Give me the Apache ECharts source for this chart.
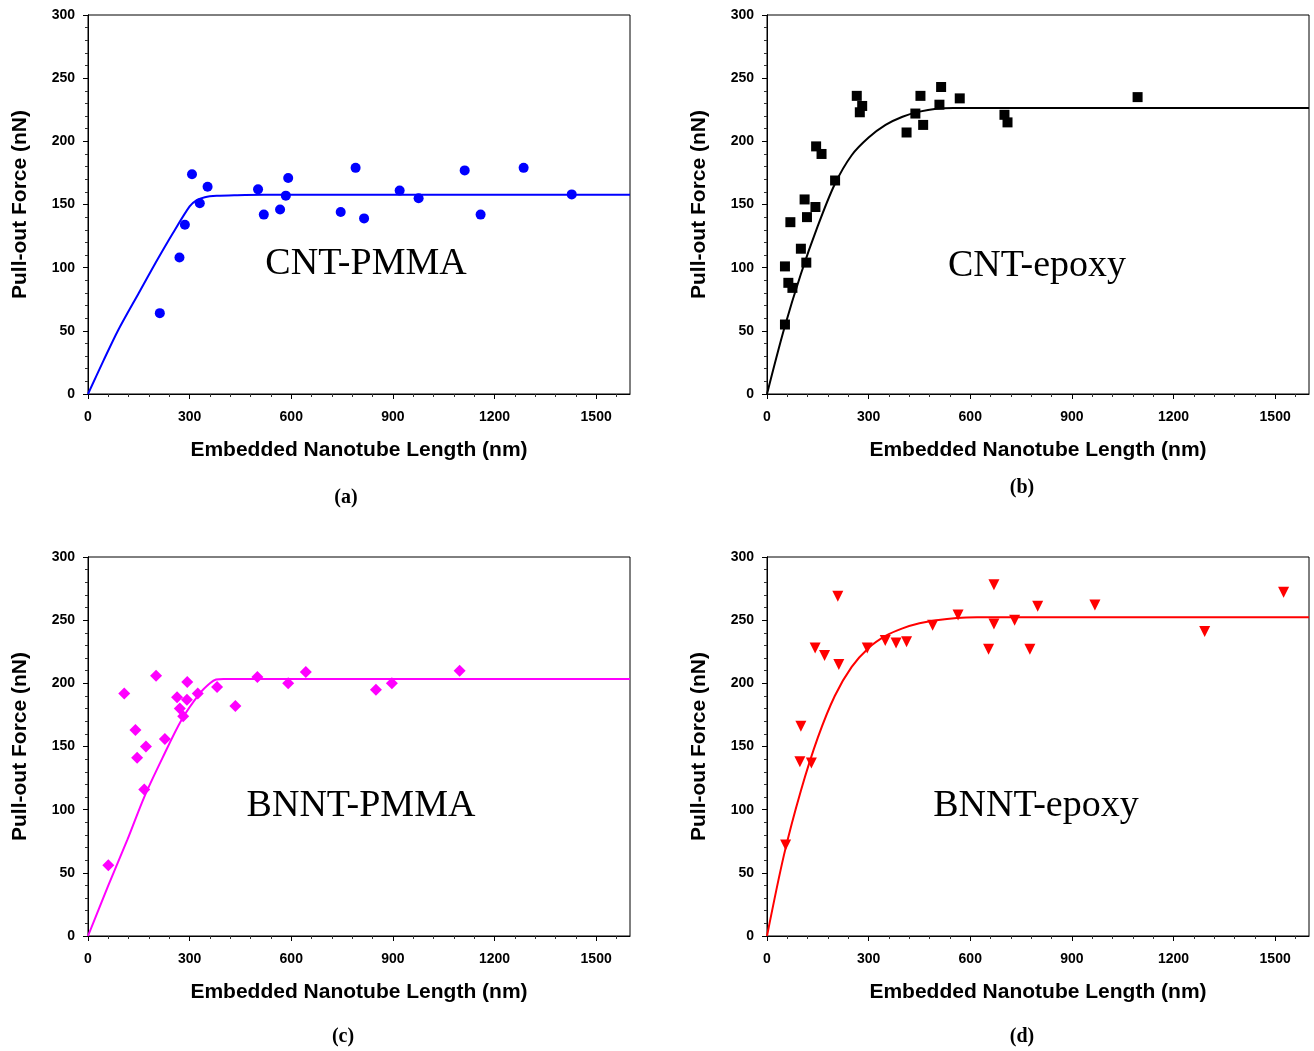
<!DOCTYPE html>
<html>
<head>
<meta charset="utf-8">
<script src="https://cdn.jsdelivr.net/npm/echarts@6/dist/echarts.min.js"></script>
<style>
  html, body { margin: 0; padding: 0; background: #fff; }
  #chart { width: 1314px; height: 1051px; }
</style>
</head>
<body>
<div id="chart"></div>
<script>
// tick values
const xTicks = [0, 300, 600, 900, 1200, 1500]
const yTicks = [0, 50, 100, 150, 200, 250, 300]
const xMinorTicks = []
for (let v = 60; v < 1600; v += 60) {
  if (v % 300 !== 0) xMinorTicks.push(v)
}

// (a) CNT-PMMA: measured points [length nm, force nN]
const cntPmmaPts = [
  [212, 64], [270, 108], [286, 134], [307, 174], [330, 151], [353, 164],
  [502, 162], [519, 142], [567, 146], [584, 157], [591, 171], [746, 144],
  [790, 179], [815, 139], [920, 161], [976, 155], [1112, 177], [1159, 142],
  [1286, 179], [1428, 158]
]
const cntPmmaFit = [
  [0, 0], [45, 26], [89, 50.5], [150, 80], [200, 104], [250, 127],
  [300, 148.5], [320, 153.3], [345, 155.8], [380, 156.9], [440, 157.4],
  [520, 157.7], [1600, 157.8]
]

// (b) CNT-epoxy
const cntEpoxyPts = [
  [53, 55], [53, 101], [63, 88], [75, 84], [69, 136], [100, 115], [116, 104],
  [111, 154], [118, 140], [143, 148], [145, 196], [161, 190], [201, 169],
  [265, 236], [281, 228], [274, 223], [412, 207], [438, 222], [453, 236],
  [461, 213], [509, 229], [514, 243], [569, 234], [701, 221], [710, 215],
  [1094, 235]
]
const cntEpoxyFit = [
  [0, 0], [50, 51], [100, 95], [150, 133], [200, 166], [250, 189],
  [300, 203], [350, 213], [400, 219.5], [450, 223.5], [500, 225.8],
  [550, 226.3], [1600, 226.3]
]

// (c) BNNT-PMMA
const bnntPmmaPts = [
  [60, 56], [107, 192], [140, 163], [145, 141], [171, 150], [166, 116],
  [201, 206], [227, 156], [263, 189], [271, 180], [281, 174], [292, 187],
  [293, 201], [324, 192], [381, 197], [435, 182], [500, 205], [591, 200],
  [643, 209], [850, 195], [897, 200], [1097, 210]
]
const bnntPmmaFit = [
  [0, 0], [60, 40], [116, 76], [166, 110], [220, 141], [276, 171],
  [330, 192], [360, 200], [378, 203], [400, 203.4], [1600, 203.4]
]

// (d) BNNT-epoxy
const bnntEpoxyPts = [
  [55, 72], [100, 166], [97, 138], [131, 137], [142, 228], [170, 222],
  [209, 269], [212, 215], [296, 228], [349, 234], [381, 232], [412, 233],
  [489, 246], [564, 254], [654, 227], [670, 278], [670, 247], [731, 250],
  [776, 227], [799, 261], [968, 262], [1292, 241], [1525, 272]
]
const bnntEpoxyFit = [
  [0, 0], [50, 64], [100, 115], [150, 157], [200, 190], [250, 213],
  [300, 228], [350, 237.5], [400, 243.5], [450, 247.5], [500, 250],
  [560, 251.8], [620, 252.3], [1600, 252.3]
]

const sans = '"Liberation Sans", Arial, sans-serif'
const serif = '"Liberation Serif", "Times New Roman", serif'

const panels = [
  { left: 88, top: 15, color: '#0000ff', symbol: 'circle', size: 10, rotate: 0,
    pts: cntPmmaPts, fit: cntPmmaFit, label: 'CNT-PMMA', lx: 366, ly: 264, tag: '(a)', tx: 346, ty: 498 },
  { left: 767, top: 15, color: '#000000', symbol: 'rect', size: 10, rotate: 0,
    pts: cntEpoxyPts, fit: cntEpoxyFit, label: 'CNT-epoxy', lx: 1037, ly: 266, tag: '(b)', tx: 1022, ty: 488 },
  { left: 88, top: 557, color: '#ff00ff', symbol: 'diamond', size: 12, rotate: 0,
    pts: bnntPmmaPts, fit: bnntPmmaFit, label: 'BNNT-PMMA', lx: 361, ly: 806, tag: '(c)', tx: 343, ty: 1037 },
  { left: 767, top: 557, color: '#ff0000', symbol: 'triangle', size: 11, rotate: 180,
    pts: bnntEpoxyPts, fit: bnntEpoxyFit, label: 'BNNT-epoxy', lx: 1036, ly: 806, tag: '(d)', tx: 1022, ty: 1037 }
]

const W = 542, H = 379
const grid = [], xAxis = [], yAxis = [], series = [], graphic = []

panels.forEach((p, i) => {
  const g = i * 2
  // main grid with frame, overlay grid for minor x ticks
  grid.push({ left: p.left, top: p.top, width: W, height: H, show: true,
    borderColor: '#000', borderWidth: 1, backgroundColor: 'transparent' })
  grid.push({ left: p.left, top: p.top, width: W, height: H })

  xAxis.push({
    gridIndex: g, type: 'value', min: 0, max: 1600, interval: 300, position: 'bottom',
    name: 'Embedded Nanotube Length (nm)', nameLocation: 'middle', nameGap: 46,
    nameTextStyle: { fontFamily: sans, fontWeight: 'bold', fontSize: 21, color: '#000' },
    axisLine: { onZero: false, lineStyle: { color: '#000', width: 1 } },
    axisTick: { customValues: xTicks, length: 5, lineStyle: { color: '#000' } },
    axisLabel: { customValues: xTicks, formatter: v => String(v), margin: 16,
      fontFamily: sans, fontWeight: 'bold', fontSize: 14, color: '#000' },
    splitLine: { show: false }
  })
  xAxis.push({
    gridIndex: g + 1, type: 'value', min: 0, max: 1600, position: 'bottom',
    axisLine: { show: false },
    axisTick: { customValues: xMinorTicks, length: 3, lineStyle: { color: '#333' } },
    axisLabel: { show: false },
    splitLine: { show: false }
  })

  yAxis.push({
    gridIndex: g, type: 'value', min: 0, max: 300, interval: 50, position: 'left',
    name: 'Pull-out Force (nN)', nameLocation: 'middle', nameGap: 57,
    nameTextStyle: { fontFamily: sans, fontWeight: 'bold', fontSize: 21, color: '#000' },
    axisLine: { show: true, onZero: false, lineStyle: { color: '#000', width: 1 } },
    axisTick: { show: true, length: 5, lineStyle: { color: '#000' } },
    minorTick: { show: true, splitNumber: 5, length: 3, lineStyle: { color: '#333' } },
    axisLabel: { customValues: yTicks, margin: 13, fontFamily: sans, fontWeight: 'bold', fontSize: 14, color: '#000' },
    splitLine: { show: false }
  })
  yAxis.push({
    gridIndex: g, type: 'value', min: 0, max: 300, interval: 50, position: 'right',
    axisLine: { show: true, lineStyle: { color: '#000', width: 1 } },
    axisTick: { show: true, inside: true, length: 5, lineStyle: { color: '#000' } },
    minorTick: { show: true, splitNumber: 5, length: 3, lineStyle: { color: '#333' } },
    axisLabel: { show: false },
    splitLine: { show: false }
  })
  yAxis.push({ gridIndex: g + 1, type: 'value', min: 0, max: 300, show: false })

  const xi = i * 2, yi = i * 3
  series.push({
    type: 'line', xAxisIndex: xi, yAxisIndex: yi, data: p.fit,
    showSymbol: false, smooth: 0.3,
    lineStyle: { color: p.color, width: 2 }, itemStyle: { color: p.color },
    z: 2, silent: true, animation: false
  })
  series.push({
    type: 'scatter', xAxisIndex: xi, yAxisIndex: yi, data: p.pts,
    symbol: p.symbol, symbolSize: p.size, symbolRotate: p.rotate,
    itemStyle: { color: p.color, opacity: 1 }, z: 3, animation: false
  })

  graphic.push({
    type: 'text', x: p.lx, y: p.ly,
    style: { text: p.label, font: '38px ' + serif, fill: '#000', align: 'center', verticalAlign: 'middle' }
  })
  graphic.push({
    type: 'text', x: p.tx, y: p.ty,
    style: { text: p.tag, font: 'bold 20px ' + serif, fill: '#000', align: 'center', verticalAlign: 'middle' }
  })
})

const myChart = echarts.init(document.getElementById('chart'))
myChart.setOption({
  backgroundColor: '#fff',
  animation: false,
  grid, xAxis, yAxis, series, graphic
})
</script>
</body>
</html>
